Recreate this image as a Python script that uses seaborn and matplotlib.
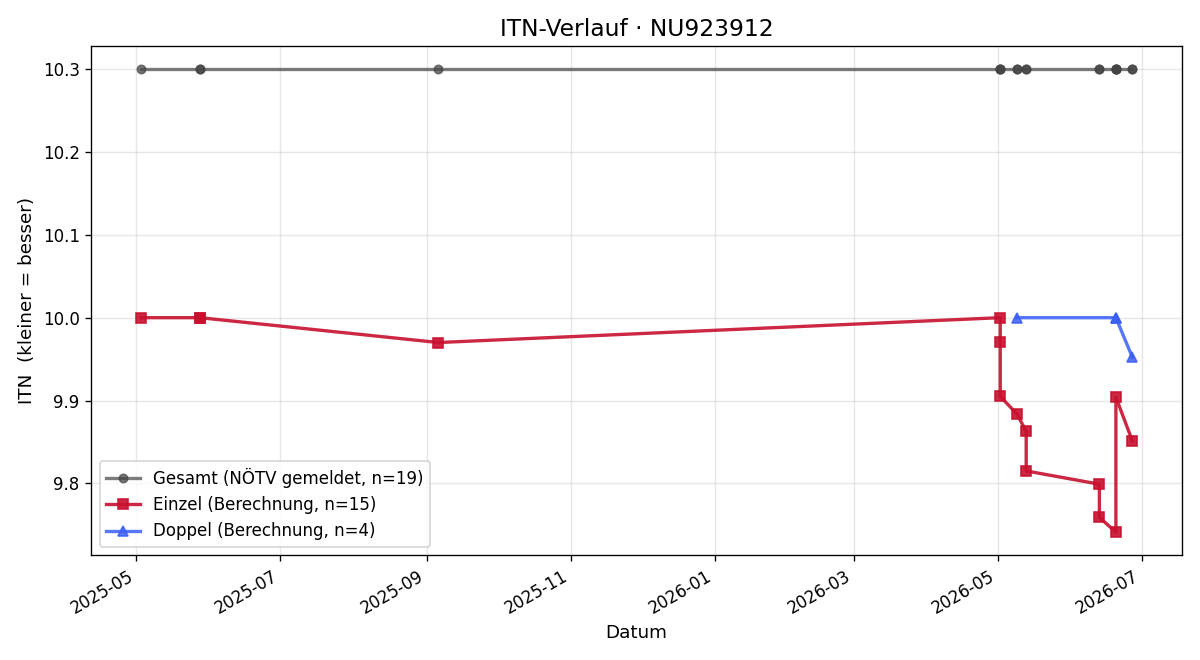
import pandas as pd
import matplotlib
matplotlib.use("Agg")
import matplotlib.pyplot as plt
import matplotlib.dates as mdates
import seaborn as sns

# Einzel (Berechnung)
einzel_datum = ["2025-05-03", "2025-05-28", "2025-05-28", "2025-09-06",
                "2026-05-02", "2026-05-02", "2026-05-02", "2026-05-09",
                "2026-05-13", "2026-05-13", "2026-06-13", "2026-06-13",
                "2026-06-20", "2026-06-20", "2026-06-27"]
einzel_itn = [10.0, 10.0, 10.0, 9.970,
              10.0, 9.971, 9.905, 9.884,
              9.863, 9.815, 9.799, 9.759,
              9.741, 9.904, 9.851]

# Doppel (Berechnung)
doppel_datum = ["2026-05-09", "2026-06-20", "2026-06-20", "2026-06-27"]
doppel_itn = [10.0, 10.0, 10.0, 9.952]

# Gesamt (NÖTV gemeldet)
gesamt_datum = sorted(einzel_datum + doppel_datum)
gesamt_itn = [10.3] * len(gesamt_datum)

df_g = pd.DataFrame({"datum": pd.to_datetime(gesamt_datum), "itn": gesamt_itn})
df_e = pd.DataFrame({"datum": pd.to_datetime(einzel_datum), "itn": einzel_itn})
df_d = pd.DataFrame({"datum": pd.to_datetime(doppel_datum), "itn": doppel_itn})

fig, ax = plt.subplots(figsize=(10, 5.5), dpi=120)

serien = [
    (df_g, "#444444", 0.7, "o", 5, f"Gesamt (NÖTV gemeldet, n={len(df_g)})"),
    (df_e, "#c8102e", 0.9, "s", 6, f"Einzel (Berechnung, n={len(df_e)})"),
    (df_d, "#3a5ff5", 0.85, "^", 6, f"Doppel (Berechnung, n={len(df_d)})"),
]
for df, farbe, alpha, marker, ms, label in serien:
    sns.lineplot(data=df, x="datum", y="itn", ax=ax, estimator=None, sort=False,
                 color=farbe, alpha=alpha, linewidth=2, marker=marker,
                 markersize=ms, markeredgecolor=farbe, markeredgewidth=1,
                 label=label)

ax.xaxis.set_major_locator(mdates.MonthLocator(bymonth=[1, 3, 5, 7, 9, 11]))
ax.xaxis.set_major_formatter(mdates.DateFormatter("%Y-%m"))
ax.grid(True, alpha=0.3)
ax.set_title("ITN-Verlauf · NU923912", fontsize=14)
ax.set_xlabel("Datum", fontsize=11)
ax.set_ylabel("ITN  (kleiner = besser)", fontsize=11)
ax.legend(loc="lower left")
fig.autofmt_xdate()
plt.tight_layout()
plt.savefig("out.png")
